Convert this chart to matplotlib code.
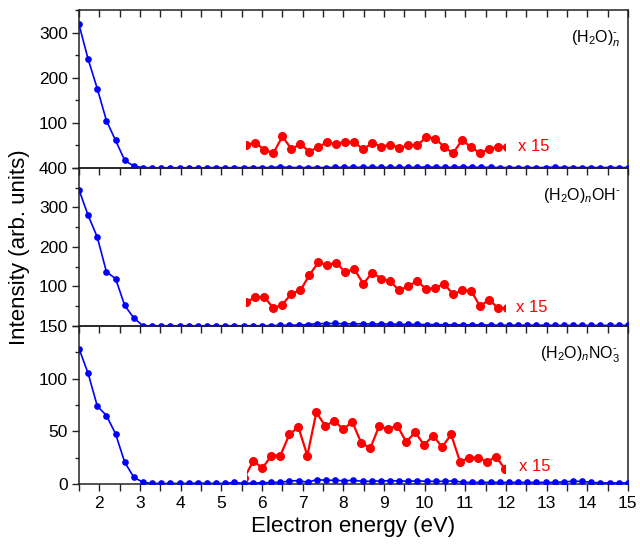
import numpy as np
import matplotlib
matplotlib.use("Agg")
import matplotlib.pyplot as plt
from matplotlib.ticker import MultipleLocator, FuncFormatter
from matplotlib.patches import Rectangle

plt.rcParams['font.family'] = ['Liberation Sans', 'DejaVu Sans']
plt.rcParams['mathtext.fontset'] = 'custom'
plt.rcParams['mathtext.rm'] = 'Liberation Sans'
plt.rcParams['mathtext.it'] = 'Liberation Sans:italic'
plt.rcParams['mathtext.bf'] = 'Liberation Sans:bold'

# ---------------- data ----------------
# electron energy grids (eV)
energy_blue = np.round(1.5 + 0.225 * np.arange(61), 3)
energy_red = np.round(5.62 + 0.221 * np.arange(30), 3)
energy_red_no3 = np.round(5.57 + 0.221 * np.arange(30), 3)

labels = ['(H$_2$O)$_n^{\u2010}$', '(H$_2$O)$_n$OH$^{\u2010}$', '(H$_2$O)$_n$NO$_3^{\u2010}$']
scale_label = 'x 15'

water_blue = [318, 241, 176, 105, 61, 17, 4,
              1, 0.5, 0.5, 0.5, 0.5, 0.5, 0.5, 0.5, 1, 0.5, 0.8, 0.8, 0.8, 1,
              1, 2.5, 1, 1, 1, 1, 1, 1.5, 1.5, 1.5, 1.5, 1.5, 1.5, 1.5, 1.5,
              1.5, 1.5, 2.5, 1.5, 1.5, 1.5, 2.5, 1.5, 1.5, 1.5, 1, 1, 1, 1,
              1, 1, 2, 1, 1, 1, 1, 1, 1, 1, 1]
water_red = [51, 56, 40, 33, 70, 42, 53, 36, 47, 57, 53, 58, 57, 41, 56,
             47, 51, 45, 50, 50, 68, 65, 47, 33, 62, 46, 33, 42, 47, 47]

oh_blue = [345, 280, 225, 137, 120, 52, 20,
           0.5, 0.5, 0.5, 0.5, 0.5, 0.5, 0.5, 0.5, 0.5, 0.5, 0.5, 0.5, 0.5,
           0.5, 1, 1.5, 2, 2.5, 3.5, 6, 6, 6.5, 5.5, 5.5, 5.5, 5, 5, 5,
           4.5, 4, 4, 3.5, 3.5, 3, 3, 3, 3, 2.5, 2.5, 2, 2, 2, 2, 2, 2,
           1.5, 1.5, 1.5, 1.5, 1.5, 1.5, 1.5, 1.5, 1.5]
oh_red = [61, 73, 73, 45, 54, 82, 90, 129, 161, 154, 160, 136, 144, 107,
          135, 120, 113, 90, 101, 114, 93, 96, 107, 80, 90, 89, 50, 67, 45, 45]

no3_blue = [128.6, 105, 74, 65, 47.6, 20.6, 6.3,
            1.6, 0.5, 0.5, 0.5, 0.5, 0.5, 0.8, 0.5, 0.5, 0.5, 1.6, 0.5, 1,
            1, 1.5, 1.5, 2.8, 3.2, 1.6, 4.1, 3.5, 3.5, 3, 3.5, 2.5, 2.5, 3,
            3, 3, 2.5, 3, 2.5, 2.5, 2.5, 3, 1.5, 1.5, 1.5, 1.5, 1.5, 1.5,
            1.5, 1.5, 1.5, 1.5, 1.5, 2, 2.5, 2.5, 1.5, 1, 1, 1, 1]
no3_red = [6, 22, 15, 27, 27, 47, 54, 27, 68, 55, 60, 52, 59, 39, 34, 55,
           52, 55.5, 40, 49, 37, 46, 35, 47, 21, 25, 25, 21, 26, 14]

x_ticks = list(range(2, 16))

# ---------------- figure ----------------
fig = plt.figure(figsize=(6.4, 5.46), dpi=100)
gs = fig.add_gridspec(3, 1, left=0.1234, right=0.981, top=0.9817,
                      bottom=0.1136, hspace=0)
axes = [fig.add_subplot(gs[i]) for i in range(3)]

panels = [
    (energy_blue, water_blue, energy_red, water_red, (0, 350), 100, 50, 5.6, (12.29, 47)),
    (energy_blue, oh_blue, energy_red, oh_red, (0, 400), 100, 50, 5.6, (12.26, 46)),
    (energy_blue, no3_blue, energy_red_no3, no3_red, (0, 150), 50, 25, 5.64, (12.32, 16.5)),
]

blue = '#0000FF'
red = '#FF0000'
spine_col = '#222222'


def fmt_skip_zero(v, pos):
    return '' if abs(v) < 1e-9 else f'{v:g}'


for i, (ax, p) in enumerate(zip(axes, panels)):
    xb, yb, xr, yr, ylim, ymaj, ymin, clipx, txt = p
    ax.set_facecolor('none')
    ax.plot(xb, yb, '-o', color=blue, lw=1.2, ms=3.8, zorder=3)
    ln, = ax.plot(xr, yr, '-o', color=red, lw=1.6, ms=5.5, zorder=4)
    ln.set_clip_path(Rectangle((clipx, -1000), 11.97 - clipx, 3000,
                               transform=ax.transData))
    ax.set_xlim(1.5, 15)
    ax.set_ylim(*ylim)
    ax.yaxis.set_major_locator(MultipleLocator(ymaj))
    ax.yaxis.set_minor_locator(MultipleLocator(ymin))
    if i < 2:
        ax.yaxis.set_major_formatter(FuncFormatter(fmt_skip_zero))
    ax.set_xticks(x_ticks)
    ax.xaxis.set_minor_locator(MultipleLocator(0.5))
    ax.tick_params(axis='y', which='major', direction='out', length=5,
                   width=1, labelsize=12.5, color=spine_col, pad=3)
    ax.tick_params(axis='y', which='minor', direction='out', length=3,
                   width=1, color=spine_col)
    ax.tick_params(axis='y', right=False)
    ax.tick_params(axis='x', which='major', direction='out', length=5,
                   width=1, color=spine_col, labelsize=12.5, pad=4)
    ax.tick_params(axis='x', which='minor', direction='out', length=5,
                   width=1, color=spine_col)
    if i < 2:
        ax.tick_params(axis='x', labelbottom=False)
    for s in ax.spines.values():
        s.set_color(spine_col)
        s.set_linewidth(1.1)
    ax.text(0.987, 0.795, labels[i], transform=ax.transAxes, ha='right',
            va='baseline', fontsize=11.5)
    ax.text(txt[0], txt[1], scale_label, color=red, fontsize=12,
            ha='left', va='center')

# top ticks pointing inward on the uppermost panel
sec = axes[0].secondary_xaxis('top')
sec.set_xticks(x_ticks)
sec.xaxis.set_minor_locator(MultipleLocator(0.5))
sec.tick_params(axis='x', which='both', direction='in', length=5, width=1,
                color=spine_col, labeltop=False)
sec.spines['top'].set_visible(False)

axes[2].set_xlabel('Electron energy (eV)', fontsize=16, labelpad=3)
fig.text(0.031, 0.548, 'Intensity (arb. units)', rotation=90, ha='center',
         va='center', fontsize=16)

fig.savefig('out.png', dpi=100)
